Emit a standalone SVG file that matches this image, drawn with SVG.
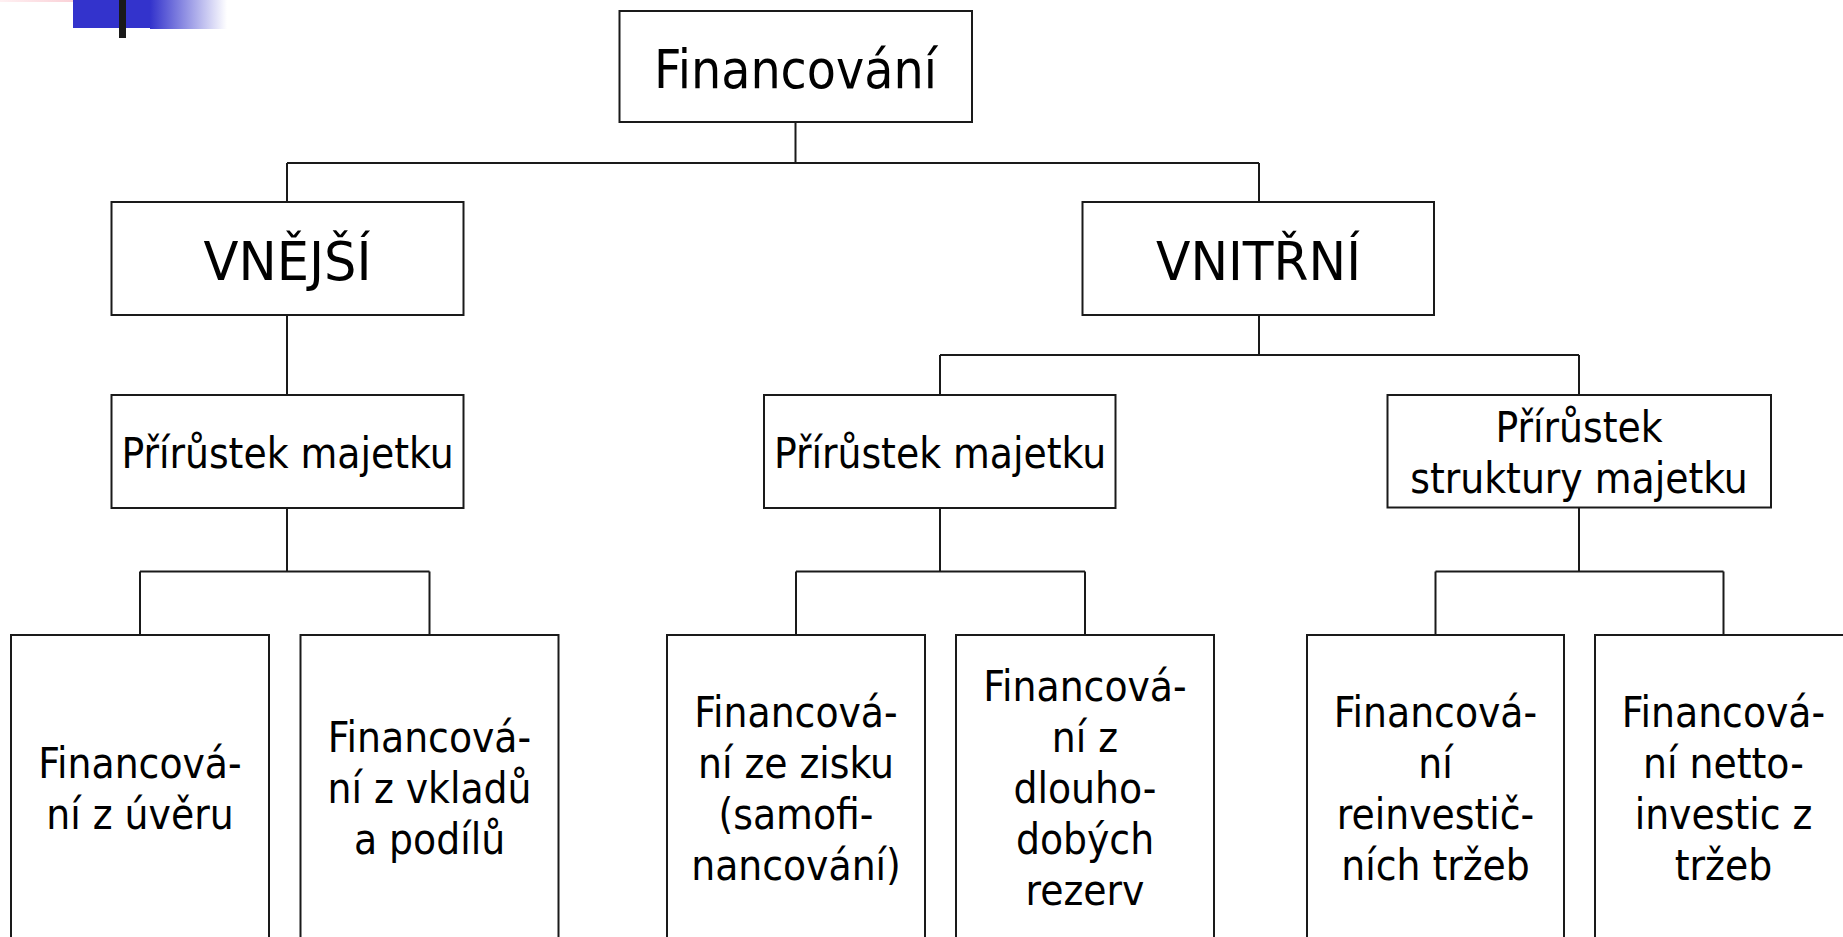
<svg xmlns="http://www.w3.org/2000/svg" width="1843" height="937" viewBox="0 0 1843 937">
  <defs>
    <linearGradient id="blueFade" x1="0" y1="0" x2="1" y2="0">
      <stop offset="0" stop-color="#3333cc"/>
      <stop offset="1" stop-color="#ffffff"/>
    </linearGradient>
    <linearGradient id="pinkFade" x1="0" y1="0" x2="1" y2="0">
      <stop offset="0" stop-color="#fff0f2"/>
      <stop offset="1" stop-color="#f8c4cc"/>
    </linearGradient>
    <style>
      .box { fill: #ffffff; stroke: #1a1a1a; stroke-width: 2; }
      .conn { fill: none; stroke: #1a1a1a; stroke-width: 2; }
      text { font-family: "DejaVu Sans Condensed", "DejaVu Sans", sans-serif; font-stretch: condensed; fill: #000000; text-anchor: middle; }
      .big { font-size: 53px; }
      .mid { font-size: 42px; }
      .small { font-size: 42px; }
    </style>
  </defs>
  <rect width="1843" height="937" fill="#ffffff"/>

  <g id="logo">
    <rect x="0" y="0" width="104" height="2" fill="url(#pinkFade)"/>
    <rect x="73" y="0" width="77" height="28" fill="#3333cc"/>
    <rect x="150" y="0" width="77" height="29" fill="url(#blueFade)"/>
    <rect x="119" y="0" width="7" height="38" fill="#1a1a1a"/>
  </g>

  <g id="connectors">
    <path class="conn" d="M795.5 122 V163 M287 163 H1259 M287 163 V202 M1259 163 V202"/>
    <path class="conn" d="M287 315 V395"/>
    <path class="conn" d="M1259 315 V355 M940 355 H1579 M940 355 V395 M1579 355 V395"/>
    <path class="conn" d="M287 508 V571.5 M140 571.5 H429.5 M140 571.5 V635 M429.5 571.5 V635"/>
    <path class="conn" d="M940 508 V571.5 M796 571.5 H1085 M796 571.5 V635 M1085 571.5 V635"/>
    <path class="conn" d="M1579 508 V571.5 M1435.5 571.5 H1723.5 M1435.5 571.5 V635 M1723.5 571.5 V635"/>
  </g>

  <g id="financovani">
    <rect class="box" x="619.5" y="11" width="352.5" height="111"/>
    <text class="big" x="795.5" y="88">Financování</text>
  </g>

  <g id="vnejsi">
    <rect class="box" x="111.5" y="202" width="352" height="113"/>
    <text class="big" x="287.5" y="280" textLength="168" lengthAdjust="spacingAndGlyphs">VNĚJŠÍ</text>
  </g>

  <g id="vnitrni">
    <rect class="box" x="1082.5" y="202" width="351.5" height="113"/>
    <text class="big" x="1258.5" y="280" textLength="205" lengthAdjust="spacingAndGlyphs">VNITŘNÍ</text>
  </g>

  <g id="prirustek-vnejsi">
    <rect class="box" x="111.5" y="395" width="352" height="113"/>
    <text class="mid" x="287.5" y="468">Přírůstek majetku</text>
  </g>

  <g id="prirustek-vnitrni">
    <rect class="box" x="764" y="395" width="351.5" height="113"/>
    <text class="mid" x="940" y="468">Přírůstek majetku</text>
  </g>

  <g id="prirustek-struktury">
    <rect class="box" x="1387.5" y="395" width="383.5" height="112.5"/>
    <text class="mid" x="1579" y="442">Přírůstek</text>
    <text class="mid" x="1579" y="493">struktury majetku</text>
  </g>

  <g id="uver">
    <rect class="box" x="11" y="635" width="258" height="320"/>
    <text class="small" x="140" y="778">Financová-</text>
    <text class="small" x="140" y="829">ní z úvěru</text>
  </g>

  <g id="vklady">
    <rect class="box" x="300.5" y="635" width="258" height="320"/>
    <text class="small" x="429.5" y="752">Financová-</text>
    <text class="small" x="429.5" y="803">ní z vkladů</text>
    <text class="small" x="429.5" y="854">a podílů</text>
  </g>

  <g id="zisk">
    <rect class="box" x="667" y="635" width="258" height="320"/>
    <text class="small" x="796" y="727">Financová-</text>
    <text class="small" x="796" y="778">ní ze zisku</text>
    <text class="small" x="796" y="829">(samofi-</text>
    <text class="small" x="796" y="880">nancování)</text>
  </g>

  <g id="rezervy">
    <rect class="box" x="956" y="635" width="258" height="320"/>
    <text class="small" x="1085" y="701">Financová-</text>
    <text class="small" x="1085" y="752">ní z</text>
    <text class="small" x="1085" y="803">dlouho-</text>
    <text class="small" x="1085" y="854">dobých</text>
    <text class="small" x="1085" y="905">rezerv</text>
  </g>

  <g id="reinvesticni">
    <rect class="box" x="1307" y="635" width="257" height="320"/>
    <text class="small" x="1435.5" y="727">Financová-</text>
    <text class="small" x="1435.5" y="778">ní</text>
    <text class="small" x="1435.5" y="829">reinvestič-</text>
    <text class="small" x="1435.5" y="880">ních tržeb</text>
  </g>

  <g id="netto">
    <rect class="box" x="1595" y="635" width="257" height="320"/>
    <text class="small" x="1723.5" y="727">Financová-</text>
    <text class="small" x="1723.5" y="778">ní netto-</text>
    <text class="small" x="1723.5" y="829">investic z</text>
    <text class="small" x="1723.5" y="880">tržeb</text>
  </g>
</svg>
